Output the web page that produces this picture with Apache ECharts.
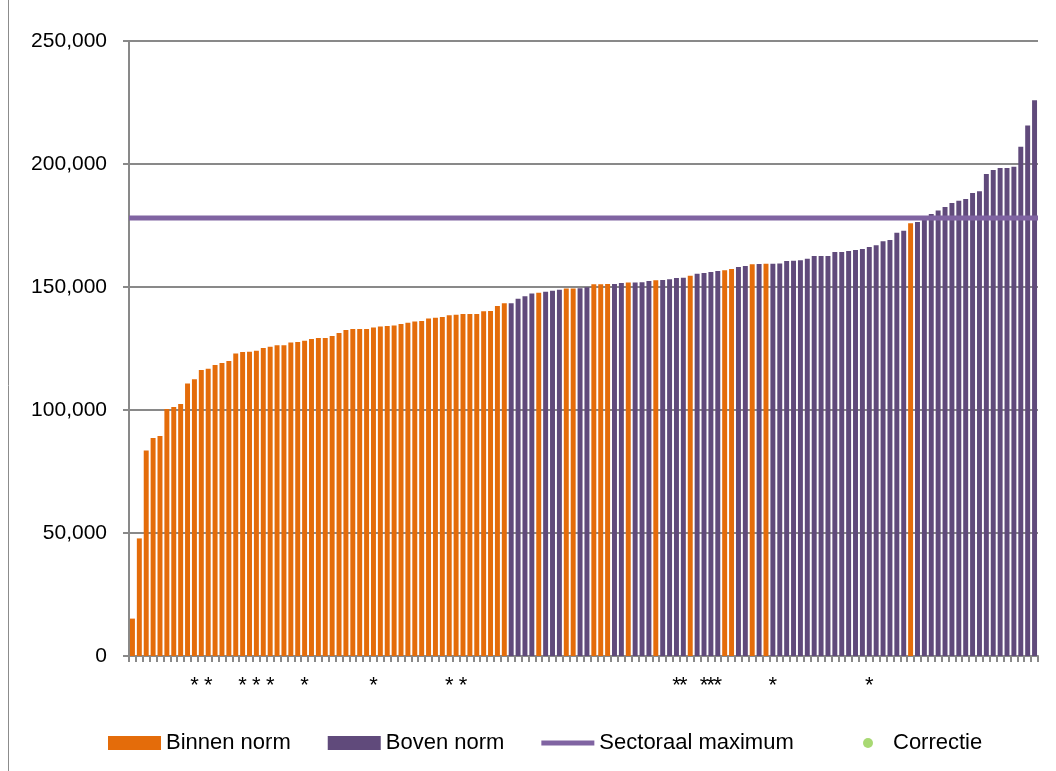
<!DOCTYPE html>
<html>
<head>
<meta charset="utf-8">
<script src="https://cdn.jsdelivr.net/npm/echarts@6/dist/echarts.min.js"></script>
<style>
  html, body { margin: 0; padding: 0; background: #fff; }
  #chart { width: 1056px; height: 771px; }
</style>
</head>
<body>
<div id="chart"></div>
<script>
// waarden per bedrijf, oplopend gesorteerd
var values = [
  15200, 47800, 83500, 88600, 89400, 100400, 101200, 102400, 110800, 112500,
  116300, 116800, 118300, 119100, 119900, 123000, 123600, 123700, 124100, 125200,
  125700, 126300, 126300, 127400, 127600, 128200, 128900, 129300, 129300, 130100,
  131300, 132500, 132900, 132900, 132900, 133500, 133900, 134100, 134300, 135000,
  135500, 136000, 136200, 137200, 137500, 137800, 138500, 138700, 139000, 139000,
  139000, 140100, 140200, 142300, 143400, 143400, 145200, 146200, 147400, 147700,
  148100, 148500, 148900, 149400, 149400, 149500, 149900, 151100, 151100, 151200,
  151200, 151600, 151800, 151800, 151900, 152400, 152700, 152800, 153200, 153700,
  153800, 154600, 155400, 155700, 156100, 156500, 156800, 157300, 158100, 158500,
  159200, 159300, 159500, 159500, 159600, 160600, 160700, 160900, 161500, 162600,
  162600, 162600, 164200, 164200, 164600, 165000, 165400, 166300, 167000, 168600,
  169100, 172100, 172900, 175900, 176400, 177500, 179700, 181100, 182500, 184100,
  185100, 185800, 188200, 188900, 195900, 197600, 198400, 198400, 198900, 207000,
  215700, 225900
];
// 1 = boven norm (paars), 0 = binnen norm (oranje)
var bovenNorm = [
  0,0,0,0,0,0,0,0,0,0, 0,0,0,0,0,0,0,0,0,0,
  0,0,0,0,0,0,0,0,0,0, 0,0,0,0,0,0,0,0,0,0,
  0,0,0,0,0,0,0,0,0,0, 0,0,0,0,0,1,1,1,1,0,
  1,1,1,0,0,1,1,0,0,0, 1,1,0,1,1,1,0,1,1,1,
  1,0,1,1,1,1,0,0,1,1, 0,1,0,1,1,1,1,1,1,1,
  1,1,1,1,1,1,1,1,1,1, 1,1,1,0,1,1,1,1,1,1,
  1,1,1,1,1,1,1,1,1,1, 1,1
];
// bedrijven met een * onder de staaf (1-based)
var asteriskBars = [10, 12, 17, 19, 21, 26, 36, 47, 49, 80, 81, 84, 85, 86, 94, 108];
var sectoraalMaximum = 178000;
var yTicks = [0, 50000, 100000, 150000, 200000, 250000];

var categories = values.map(function (v, i) {
  return asteriskBars.indexOf(i + 1) >= 0 ? '*' : '';
});
var binnenData = values.map(function (v, i) { return bovenNorm[i] ? '-' : v; });
var bovenData = values.map(function (v, i) { return bovenNorm[i] ? v : '-'; });

var myChart = echarts.init(document.getElementById('chart'));
var font = 'Liberation Sans';
var axisGrey = '#898989';
var legendText = { fontFamily: font, fontSize: 22, color: '#000', lineHeight: 22 };

var option = {
  animation: false,
  color: ['#E46C0A', '#604A7B', '#8064A2', '#92D050'],
  textStyle: { fontFamily: font, color: '#000' },
  grid: { left: 129, right: 18, top: 41, bottom: 115, containLabel: false },
  graphic: [{
    type: 'line',
    shape: { x1: 8.5, y1: 0, x2: 8.5, y2: 771 },
    style: { stroke: '#8c8c8c', lineWidth: 1 }
  }],
  legend: [{
    data: [
      { name: 'Binnen norm', icon: 'rect' },
      { name: 'Boven norm', icon: 'rect' },
      { name: 'Sectoraal maximum', icon: 'path://M0,0h106v10H0z' }
    ],
    left: 103,
    top: 727,
    itemWidth: 53,
    itemHeight: 14,
    itemGap: 37,
    textStyle: legendText
  }, {
    data: [{ name: 'Correctie', icon: 'circle' }],
    left: 858,
    top: 727,
    itemWidth: 40,
    itemHeight: 10,
    textStyle: legendText
  }],
  xAxis: [{
    type: 'category',
    data: categories,
    axisLine: { lineStyle: { color: axisGrey, width: 2 } },
    axisTick: { show: true, interval: 0, length: 6, lineStyle: { color: axisGrey, width: 2 } },
    axisLabel: { interval: 0, margin: 19, fontSize: 22, color: '#000', fontFamily: font }
  }, {
    type: 'value',
    min: 0,
    max: 1,
    show: false
  }],
  yAxis: {
    type: 'value',
    min: yTicks[0],
    max: yTicks[yTicks.length - 1],
    interval: 50000,
    axisLine: { show: true, lineStyle: { color: axisGrey, width: 2 } },
    axisTick: { show: true, length: 6, lineStyle: { color: axisGrey, width: 2 } },
    splitLine: { lineStyle: { color: axisGrey, width: 2 } },
    axisLabel: {
      margin: 22,
      fontSize: 21,
      color: '#000',
      fontFamily: font,
      formatter: function (v) { return v.toLocaleString('en-US'); }
    }
  },
  series: [{
    name: 'Binnen norm',
    type: 'bar',
    stack: 'bedrijf',
    barCategoryGap: '28%',
    itemStyle: { color: '#E46C0A' },
    data: binnenData
  }, {
    name: 'Boven norm',
    type: 'bar',
    stack: 'bedrijf',
    barCategoryGap: '28%',
    itemStyle: { color: '#604A7B' },
    data: bovenData
  }, {
    name: 'Sectoraal maximum',
    type: 'line',
    xAxisIndex: 1,
    symbol: 'none',
    lineStyle: { color: '#8064A2', width: 5, cap: 'butt' },
    itemStyle: { color: '#8064A2' },
    data: [[0, sectoraalMaximum], [1, sectoraalMaximum]],
    z: 5
  }, {
    name: 'Correctie',
    type: 'scatter',
    itemStyle: { color: '#92D050' },
    data: []
  }]
};
myChart.setOption(option);
</script>
</body>
</html>
